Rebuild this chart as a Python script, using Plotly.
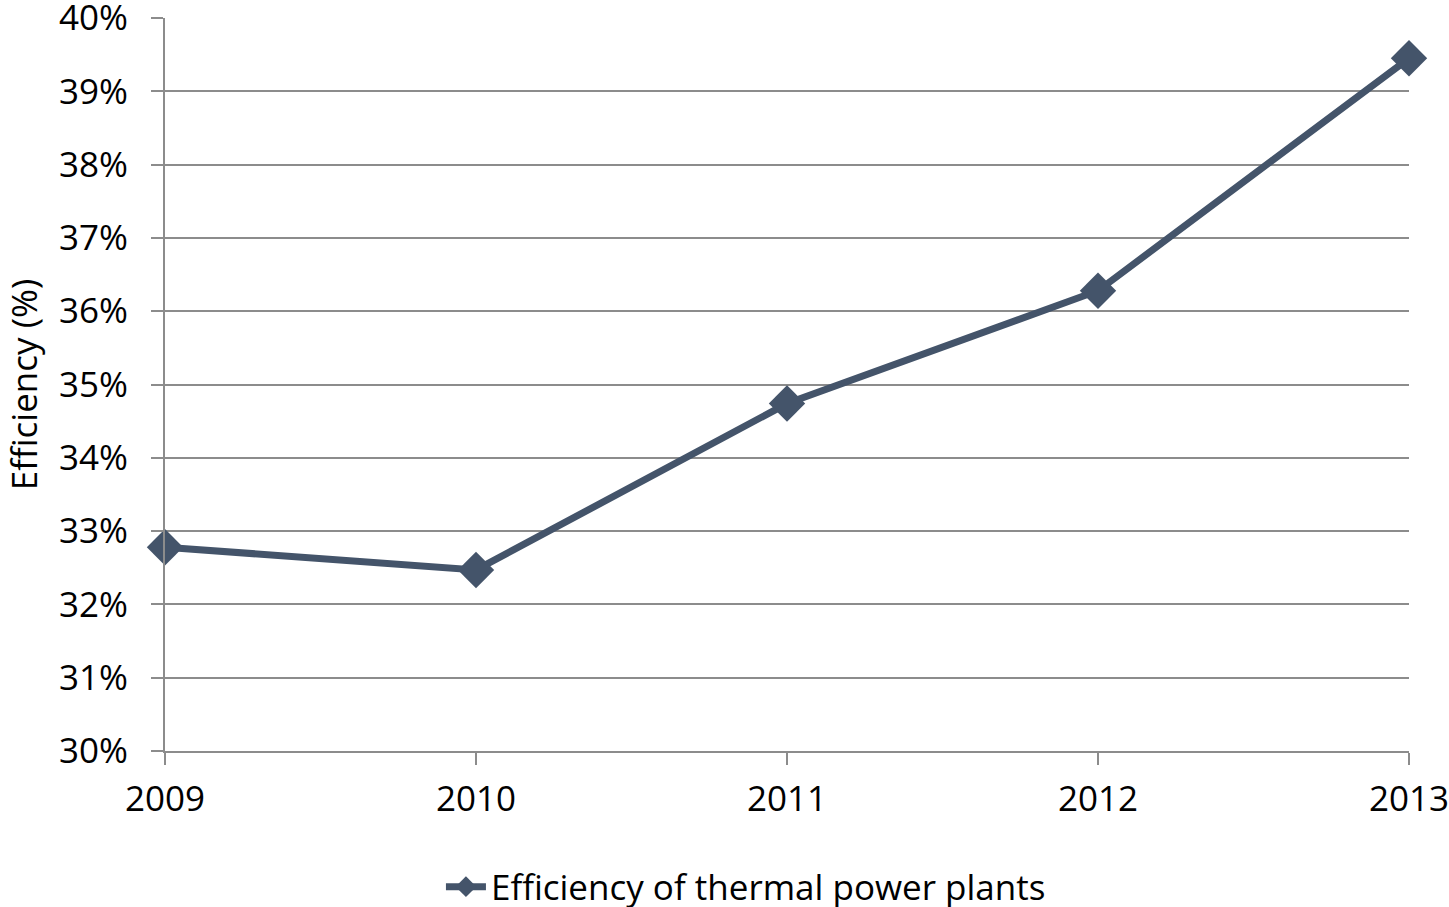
import plotly.graph_objects as go

years = [2009, 2010, 2011, 2012, 2013]
efficiency = [32.78, 32.47, 34.74, 36.28, 39.45]
y_ticks = [30, 31, 32, 33, 34, 35, 36, 37, 38, 39, 40]
y_tick_labels = [f"{v}%" for v in y_ticks]
series_name = "Efficiency of thermal power plants"

color = "#44546A"
grid = "#8C8C8C"
font_family = "Open Sans, Liberation Sans, sans-serif"

fig = go.Figure()
fig.add_trace(go.Scatter(
    x=years, y=efficiency, mode="lines+markers", name=series_name,
    line=dict(color=color, width=7),
    marker=dict(symbol="diamond", size=28, color=color),
    cliponaxis=False,
))

fig.update_layout(
    width=1449, height=907,
    margin=dict(l=165, r=40, t=18, b=156, autoexpand=False),
    plot_bgcolor="white", paper_bgcolor="white",
    font=dict(family=font_family, color="black", size=35),
    showlegend=True,
    legend=dict(orientation="h", x=0.467, xanchor="center", y=-0.1855, yanchor="middle",
                font=dict(size=35), itemwidth=40),
)
fig.update_xaxes(
    range=[2009, 2013], tickmode="array", tickvals=years, ticktext=[str(y) for y in years],
    showgrid=False, showline=True, linecolor=grid, linewidth=2,
    ticks="outside", ticklen=12, tickcolor=grid, tickwidth=2,
    tickfont=dict(size=35), zeroline=False, ticklabeloverflow="allow",
    automargin=False, ticklabelstandoff=4,
)
fig.update_yaxes(
    range=[30, 40], tickmode="array", tickvals=y_ticks, ticktext=y_tick_labels,
    showgrid=True, gridcolor=grid, gridwidth=2,
    showline=True, linecolor=grid, linewidth=2,
    ticks="outside", ticklen=12, tickcolor=grid, tickwidth=2,
    tickfont=dict(size=35), zeroline=False, ticklabeloverflow="allow",
    automargin=False, ticklabelstandoff=16,
    title=dict(text="Efficiency (%)", font=dict(size=35), standoff=12),
)

fig.write_html("out.html", config={"displayModeBar": False},
               post_script="document.body.style.margin='0';")
